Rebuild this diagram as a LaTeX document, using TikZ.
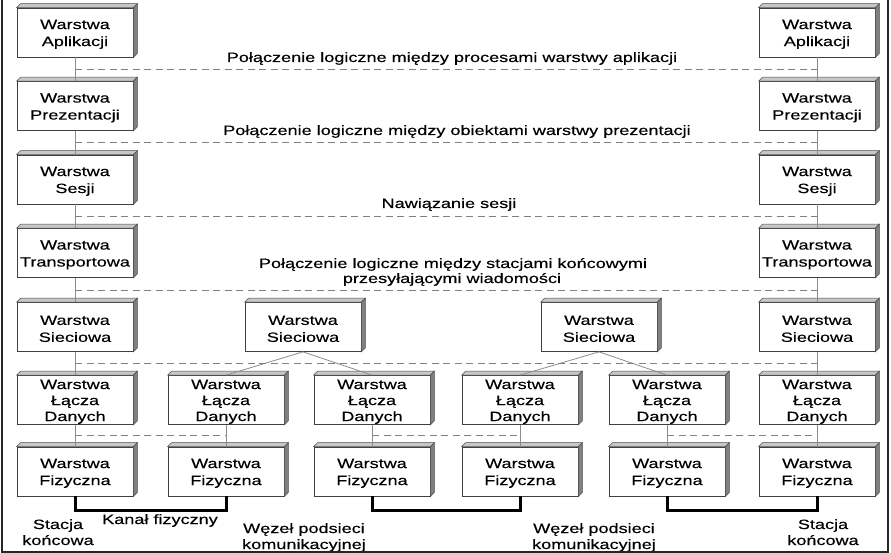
\documentclass[tikz,border=0pt]{standalone}
\usepackage{fontspec}
\setmainfont[FakeStretch=1.34,FakeBold=0.3]{Liberation Sans}
\usetikzlibrary{calc}
\tikzset{
  layer/.style={draw=black!75, fill=white, minimum width=116pt, minimum height=49pt,
    inner sep=0pt, line width=0.7pt},
  boxtext/.style={inner sep=0pt, align=center, font=\fontsize{13.5}{17}\selectfont},
  boxtextthree/.style={boxtext, font=\fontsize{13.5}{16}\selectfont},
  conn/.style={draw=black!45, line width=0.8pt},
  dashline/.style={draw=black!50, dash pattern=on 7pt off 4.5pt, line width=0.8pt},
  phys/.style={draw=black, line width=3pt},
  lbl/.style={font=\fontsize{13.5}{16}\selectfont, inner sep=0pt, anchor=base},
  bevtop/.style={fill=black!22, draw=black!70, line width=0.5pt},
  bevside/.style={fill=black!50, draw=black!70, line width=0.5pt},
}
\newcommand\mybevel[1]{%
  \path[bevtop] (#1.north west) -- ++(4pt,4pt) -- ([shift={(4pt,4pt)}]#1.north east) -- (#1.north east) -- cycle;
  \path[bevside] (#1.north east) -- ++(4pt,4pt) -- ([shift={(4pt,4pt)}]#1.south east) -- (#1.south east) -- cycle;
}
\newcommand\mybox[5][boxtext]{%
  \node[layer] (#2) at (#3,#4) {};
  \mybevel{#2}
  \node[#1] (#2t) at ([yshift=-1.8pt]#2.center) {#5};
}
\begin{document}
\begin{tikzpicture}[x=1pt,y=-1pt]
\useasboundingbox (0,0) rectangle (891,553);
% left stack
\mybox{LA}{75}{32.5}{Warstwa\\Aplikacji}
\mybox{LP}{75}{106}{Warstwa\\Prezentacji}
\mybox{LS}{75}{179.5}{Warstwa\\Sesji}
\mybox{LT}{75}{253}{Warstwa\\Transportowa}
\mybox{LN}{75}{327}{Warstwa\\Sieciowa}
\mybox[boxtextthree]{LD}{75}{400}{Warstwa\\Łącza\\Danych}
\mybox{LF}{75}{471.5}{Warstwa\\Fizyczna}
% right stack
\mybox{RA}{817}{32.5}{Warstwa\\Aplikacji}
\mybox{RP}{817}{106}{Warstwa\\Prezentacji}
\mybox{RS}{817}{179.5}{Warstwa\\Sesji}
\mybox{RT}{817}{253}{Warstwa\\Transportowa}
\mybox{RN}{817}{327}{Warstwa\\Sieciowa}
\mybox[boxtextthree]{RD}{817}{400}{Warstwa\\Łącza\\Danych}
\mybox{RF}{817}{471.5}{Warstwa\\Fizyczna}
% middle nodes
\mybox{N1}{303}{327}{Warstwa\\Sieciowa}
\mybox{N2}{599}{327}{Warstwa\\Sieciowa}
\mybox[boxtextthree]{D2}{226}{400}{Warstwa\\Łącza\\Danych}
\mybox[boxtextthree]{D3}{372}{400}{Warstwa\\Łącza\\Danych}
\mybox[boxtextthree]{D4}{520}{400}{Warstwa\\Łącza\\Danych}
\mybox[boxtextthree]{D5}{667}{400}{Warstwa\\Łącza\\Danych}
\mybox{F2}{226}{471.5}{Warstwa\\Fizyczna}
\mybox{F3}{372}{471.5}{Warstwa\\Fizyczna}
\mybox{F4}{520}{471.5}{Warstwa\\Fizyczna}
\mybox{F5}{667}{471.5}{Warstwa\\Fizyczna}
% vertical connectors
\foreach \a/\b in {LA/LP,LP/LS,LS/LT,LT/LN,LN/LD,LD/LF,RA/RP,RP/RS,RS/RT,RT/RN,RN/RD,RD/RF,D2/F2,D3/F3,D4/F4,D5/F5}
  \draw[conn] (\a.south) -- (\b.north);
\draw[conn] (N1.south) -- (D2.north);
\draw[conn] (N1.south) -- (D3.north);
\draw[conn] (N2.south) -- (D4.north);
\draw[conn] (N2.south) -- (D5.north);
% dashed logical links
\foreach \a/\b/\c/\d in {LA/LP/RA/RP,LP/LS/RP/RS,LS/LT/RS/RT,LT/LN/RT/RN,LN/LD/RN/RD}
  \draw[dashline] ($(\a.south)!.5!(\b.north)$) -- ($(\c.south)!.5!(\d.north)$);
\draw[dashline] ($(LD.south)!.5!(LF.north)$) -- ($(D2.south)!.5!(F2.north)$);
\draw[dashline] ($(D3.south)!.5!(F3.north)$) -- ($(D4.south)!.5!(F4.north)$);
\draw[dashline] ($(D5.south)!.5!(F5.north)$) -- ($(RD.south)!.5!(RF.north)$);
% physical channels
\draw[phys] (LF.south) -- ++(0pt,-14pt) -| (F2.south);
\draw[phys] (F3.south) -- ++(0pt,-14pt) -| (F4.south);
\draw[phys] (F5.south) -- ++(0pt,-14pt) -| (RF.south);
% labels
\node[lbl] (t1) at (452,62) {Połączenie logiczne między procesami warstwy aplikacji};
\node[lbl] (t2) at (457,135) {Połączenie logiczne między obiektami warstwy prezentacji};
\node[lbl] (t3) at (449,208) {Nawiązanie sesji};
\node[lbl] (t4a) at (453,268) {Połączenie logiczne między stacjami końcowymi};
\node[lbl] (t4b) at (452,283) {przesyłającymi wiadomości};
\node[lbl] (s1a) at (58,529) {Stacja};
\node[lbl] (s1b) at (58,545) {końcowa};
\node[lbl] (k1) at (160,524) {Kanał fizyczny};
\node[lbl] (w1a) at (304,533) {Węzeł podsieci};
\node[lbl] (w1b) at (304,549) {komunikacyjnej};
\node[lbl] (w2a) at (594,533) {Węzeł podsieci};
\node[lbl] (w2b) at (594,549) {komunikacyjnej};
\node[lbl] (s2a) at (823,529) {Stacja};
\node[lbl] (s2b) at (823,545) {końcowa};
% frame
\draw[line width=2pt, black!85] (2,0) -- (2,551.5) -- (888,551.5) -- (888,0);
\end{tikzpicture}
\end{document}
